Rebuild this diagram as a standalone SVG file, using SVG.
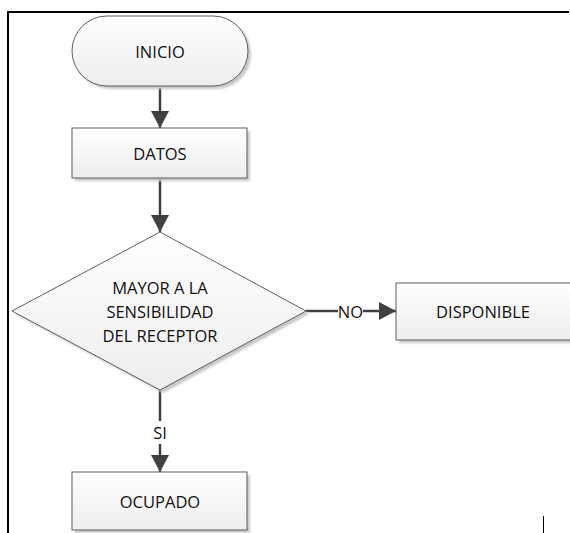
<svg xmlns="http://www.w3.org/2000/svg" width="570" height="533" viewBox="0 0 570 533">
<defs>
<linearGradient id="g" x1="0" y1="0" x2="0" y2="1">
<stop offset="0" stop-color="#ffffff"/>
<stop offset="1" stop-color="#ededed"/>
</linearGradient>
<filter id="sh" x="-10%" y="-10%" width="130%" height="130%">
<feGaussianBlur stdDeviation="1.2"/>
</filter>
<marker id="ah" viewBox="0 0 18 18" refX="17" refY="9" markerWidth="18" markerHeight="18" markerUnits="userSpaceOnUse" orient="auto">
<path d="M0,0 L17,9 L0,18 Z" fill="#404040"/>
</marker>
</defs>
<style>
.shape{fill:url(#g);stroke:#5f5f5f;stroke-width:1}
.shadow{fill:#c8c8c8;filter:url(#sh)}
.txt{font-family:"Open Sans","Noto Sans",sans-serif;font-size:16.5px;fill:#111;text-anchor:middle;dominant-baseline:central}
.conn{stroke:#404040;stroke-width:2.5;fill:none}
.frame{stroke:#000;stroke-width:2;fill:none}
</style>
<rect width="570" height="533" fill="#fff"/>
<g id="frame">
<line class="frame" x1="7" y1="12" x2="569" y2="12"/>
<line class="frame" x1="8" y1="11" x2="8" y2="533"/>
<line x1="543.5" y1="516" x2="543.5" y2="533" stroke="#000" stroke-width="1"/>
</g>
<g id="connectors">
<line class="conn" x1="160" y1="86" x2="160" y2="128" marker-end="url(#ah)"/>
<line class="conn" x1="160" y1="178" x2="160" y2="232" marker-end="url(#ah)"/>
<line class="conn" x1="160" y1="390" x2="160" y2="421"/>
<line class="conn" x1="160" y1="444" x2="160" y2="472" marker-end="url(#ah)"/>
<text class="txt" x="160" y="432">SI</text>
<line class="conn" x1="306" y1="311" x2="338" y2="311"/>
<line class="conn" x1="363" y1="311" x2="396" y2="311" marker-end="url(#ah)"/>
<text class="txt" x="350.5" y="311">NO</text>
</g>
<g id="inicio">
<rect class="shadow" x="75" y="19" width="176" height="70" rx="35"/>
<rect class="shape" x="72" y="16" width="176" height="70" rx="35"/>
<text class="txt" x="160" y="51">INICIO</text>
</g>
<g id="datos">
<rect class="shadow" x="75" y="131" width="175" height="50"/>
<rect class="shape" x="72" y="128" width="175" height="50"/>
<text class="txt" x="160" y="153">DATOS</text>
</g>
<g id="decision">
<polygon class="shadow" points="163,236 309,314 163,393 15,314"/>
<polygon class="shape" points="160,232 306,311 160,390 12,311"/>
<text class="txt" x="160" y="287">MAYOR A LA</text>
<text class="txt" x="160" y="311">SENSIBILIDAD</text>
<text class="txt" x="160" y="335">DEL RECEPTOR</text>
</g>
<g id="disponible">
<rect class="shadow" x="399" y="286" width="180" height="57"/>
<rect class="shape" x="396" y="283" width="180" height="57"/>
<text class="txt" x="483" y="311">DISPONIBLE</text>
</g>
<g id="ocupado">
<rect class="shadow" x="75" y="475" width="175" height="58"/>
<rect class="shape" x="72" y="472" width="175" height="58"/>
<text class="txt" x="160" y="501">OCUPADO</text>
</g>
</svg>
